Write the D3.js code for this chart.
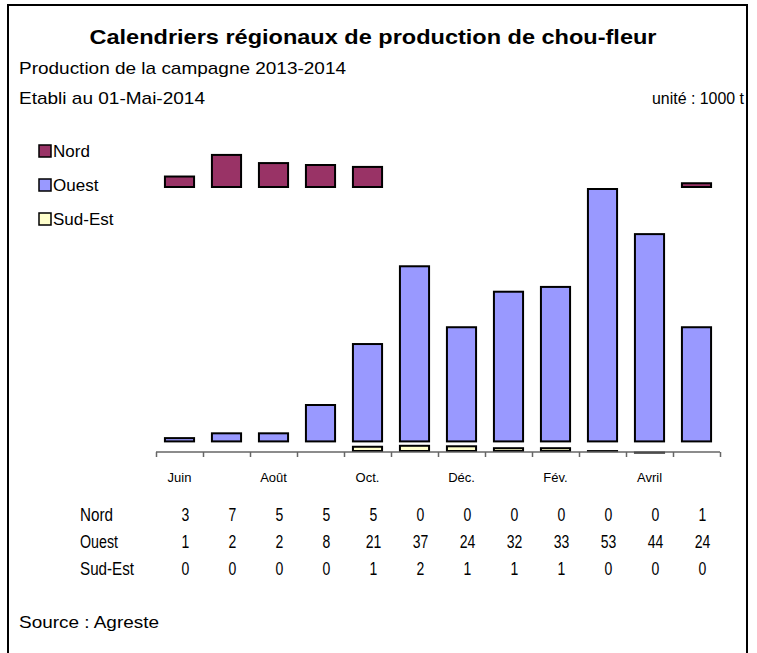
<!DOCTYPE html>
<html><head><meta charset="utf-8">
<script src="https://cdn.jsdelivr.net/npm/d3@7"></script>
<style>
html,body{margin:0;padding:0;background:#fff;}
svg{display:block;}
text{font-family:"Liberation Sans", Arial, sans-serif;fill:#000;}
</style></head>
<body><svg id="c" width="757" height="653"></svg>
<script>
const months = ["Juin","Juil.","Août","Sept.","Oct.","Nov.","Déc.","Janv.","Fév.","Mars","Avril","Mai"];
const tickLabels = ["Juin","","Août","","Oct.","","Déc.","","Fév.","","Avril",""];
const seriesNames = ["Nord","Ouest","Sud-Est"];
const nord   = [2.6, 7.1, 5.4, 5.0, 4.6, 0, 0, 0, 0, 0, 0, 1.2];
const ouest  = [1.1, 2.1, 2.1, 8.0, 20.7, 36.9, 24.2, 31.6, 32.6, 53.0, 43.6, 24.2];
const sudEst = [0, 0, 0, 0, 1.3, 1.5, 1.4, 1.0, 1.0, 0.4, 0.1, 0];
// stacked offsets (invisible filler series in the original)
const bases = [55, 2, 0];
const colors = ["#993366", "#9999FF", "#FFFFCC"];
const seriesValues = [nord, ouest, sudEst];

const svg = d3.select("#c");

// frame
svg.append("rect").attr("x",8).attr("y",5).attr("width",739).attr("height",670)
  .attr("fill","none").attr("stroke","#000").attr("stroke-width",2);

// titles
svg.append("text").attr("x",373).attr("y",44).attr("text-anchor","middle")
  .attr("font-size",21).attr("font-weight","bold")
  .attr("textLength",567).attr("lengthAdjust","spacingAndGlyphs")
  .text("Calendriers régionaux de production de chou-fleur");
svg.append("text").attr("x",19).attr("y",74).attr("font-size",17)
  .attr("textLength",327).attr("lengthAdjust","spacingAndGlyphs")
  .text("Production de la campagne 2013-2014");
svg.append("text").attr("x",19).attr("y",104).attr("font-size",17)
  .attr("textLength",186).attr("lengthAdjust","spacingAndGlyphs")
  .text("Etabli au 01-Mai-2014");
svg.append("text").attr("x",744).attr("y",104).attr("font-size",17).attr("text-anchor","end")
  .attr("textLength",92).attr("lengthAdjust","spacingAndGlyphs")
  .text("unité : 1000 t");

// scales
const x = d3.scaleBand().domain(d3.range(12)).range([156,720]).paddingInner(0.38).paddingOuter(0.19);
const xb = d3.scaleLinear().domain([0,12]).range([156,720]);
const y = d3.scaleLinear().domain([0,70]).range([452, 452-70*4.8]);

// bars
seriesValues.forEach((vals,si)=>{
  svg.append("g").selectAll("rect").data(vals.map((v,i)=>({v,i})).filter(d=>d.v>0))
    .join("rect")
    .attr("x",d=>x(d.i))
    .attr("width",x.bandwidth())
    .attr("y",d=>y(bases[si]+d.v)+1)
    .attr("height",d=>Math.max(0.1, y(bases[si]) - y(bases[si]+d.v) - 2))
    .attr("fill",colors[si]).attr("stroke","#000").attr("stroke-width",2);
});

// axis with boundary ticks
const gAx = svg.append("g").attr("transform","translate(0,452)");
gAx.call(d3.axisBottom(xb).tickValues(d3.range(13)).tickSize(5).tickFormat(""));
gAx.select(".domain").attr("stroke","#666").attr("stroke-width",1.5).attr("d","M156,0H720");
gAx.selectAll(".tick line").attr("stroke","#666").attr("stroke-width",1.5);

const gLab = svg.append("g").attr("transform","translate(0,452)");
gLab.call(d3.axisBottom(x).tickSize(0).tickFormat(i=>tickLabels[i]));
gLab.select(".domain").remove();
gLab.selectAll("text").attr("font-size",13).attr("font-family","Liberation Sans, Arial, sans-serif")
  .attr("dy",0).attr("y",30).attr("fill","#000");

// legend
const lg = svg.append("g");
seriesNames.forEach((n,i)=>{
  const yy = 145 + i*34;
  lg.append("rect").attr("x",39).attr("y",yy).attr("width",12).attr("height",12)
    .attr("fill",colors[i]).attr("stroke","#000").attr("stroke-width",1.5);
  lg.append("text").attr("x",53).attr("y",yy+12).attr("font-size",17).text(n);
});

// data table
const rowLabelW = [33, 38, 54];
seriesValues.forEach((vals,si)=>{
  const yy = 521 + si*27;
  svg.append("text").attr("x",80).attr("y",yy).attr("font-size",18)
    .attr("textLength",rowLabelW[si]).attr("lengthAdjust","spacingAndGlyphs")
    .text(seriesNames[si]);
  svg.append("g").selectAll("text").data(vals).join("text")
    .attr("x",(d,i)=>x(i)+x.bandwidth()/2+6)
    .attr("y",yy).attr("font-size",18).attr("text-anchor","middle")
    .each(function(d){
      const s = d3.format(".0f")(d);
      d3.select(this).text(s).attr("textLength", s.length*7.8).attr("lengthAdjust","spacingAndGlyphs");
    });
});

svg.append("text").attr("x",19).attr("y",628).attr("font-size",17)
  .attr("textLength",140).attr("lengthAdjust","spacingAndGlyphs").text("Source : Agreste");
</script></body></html>
